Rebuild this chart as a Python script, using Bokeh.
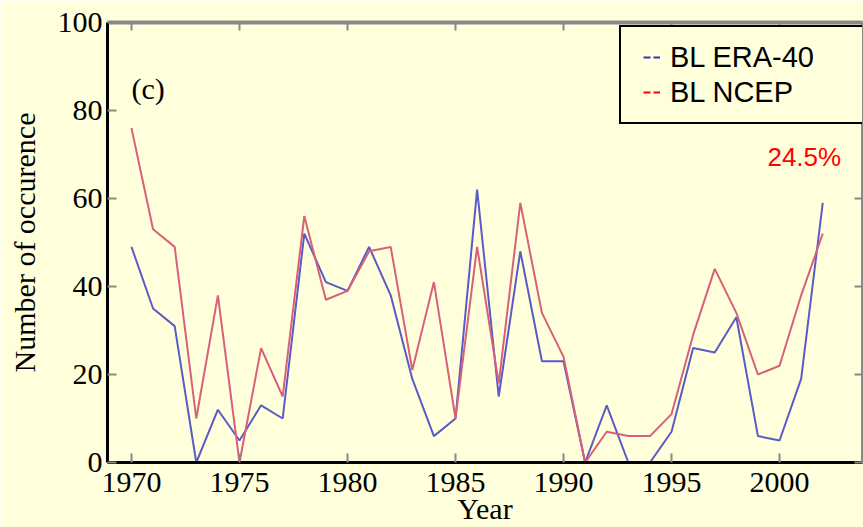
from bokeh.plotting import figure
from bokeh.models import (LinearAxis, FixedTicker, Range1d, Legend, LegendItem,
                          Label, CustomJSTickFormatter)
from bokeh.embed import file_html
from bokeh.resources import INLINE

# Yearly number of blocking occurrences, two reanalyses
years = list(range(1970, 2003))
era40 = [49, 35, 31, 0, 12, 5, 13, 10, 52, 41, 39, 49, 38, 19, 6, 10, 62,
         15, 48, 23, 23, 0, 13, 0, 0, 7, 26, 25, 33, 6, 5, 19, 59]
ncep = [76, 53, 49, 10, 38, 0, 26, 15, 56, 37, 39, 48, 49, 21, 41, 10, 49,
        18, 59, 34, 24, 0, 7, 6, 6, 11, 29, 44, 34, 20, 22, 38, 52]

x_ticks = [1970, 1975, 1980, 1985, 1990, 1995, 2000]
y_ticks = [0, 20, 40, 60, 80, 100]
series_names = ["BL ERA-40", "BL NCEP"]
panel_tag = "(c)"
trend_text = "24.5%"

BG = "#FFFFDC"
SERIF = "Liberation Serif"
SANS = "Liberation Sans"

p = figure(width=863, height=527,
           x_range=Range1d(1968.89, 2003.84), y_range=Range1d(0, 100),
           output_backend="svg", toolbar_location=None,
           min_border_left=107, min_border_right=1,
           min_border_top=22, min_border_bottom=64,
           background_fill_color=BG, border_fill_color=BG)
p.outline_line_color = None
p.grid.visible = False

# data lines
p.line(years, era40, line_color="#5a5ac8", line_width=2)
p.line(years, ncep, line_color="#d8607a", line_width=2)

# hidden dashed copies, used only for the legend swatches ("--")
sw_style = dict(line_width=2, line_dash="7 3 7 9", line_dash_offset=17,
                visible=False)
sw_era = p.line(years, era40, line_color="#3333BB", **sw_style)
sw_ncep = p.line(years, ncep, line_color="#FF0000", **sw_style)

# bottom / left axes
xa = p.xaxis[0]
ya = p.yaxis[0]
xa.ticker = FixedTicker(ticks=x_ticks)
ya.ticker = FixedTicker(ticks=y_ticks)
xa.axis_label = "Year"
ya.axis_label = "Number of occurence"
for ax in (xa, ya):
    ax.axis_line_color = "black"
    ax.axis_line_width = 3
    ax.major_tick_line_color = "#888888"
    ax.major_tick_line_width = 2
    ax.major_tick_in = 9
    ax.major_tick_out = 0
    ax.minor_tick_line_color = None
    ax.major_label_text_font = SERIF
    ax.major_label_text_font_size = "30px"
    ax.major_label_text_color = "black"
    ax.axis_label_text_font = SERIF
    ax.axis_label_text_font_size = "30px"
    ax.axis_label_text_font_style = "normal"
    ax.axis_label_text_color = "black"
xa.major_label_standoff = 10
xa.axis_label_standoff = -3
ya.major_label_standoff = 5
ya.axis_label_standoff = 14

# top / right frame axes with ticks only
blank = CustomJSTickFormatter(code="return ''")
top = LinearAxis(ticker=FixedTicker(ticks=x_ticks), formatter=blank,
                 axis_line_color="#888888", axis_line_width=4,
                 major_tick_line_color="#888888", major_tick_line_width=2,
                 major_tick_in=8, major_tick_out=0, minor_tick_line_color=None,
                 major_label_standoff=0)
right = LinearAxis(ticker=FixedTicker(ticks=y_ticks), formatter=blank,
                   axis_line_color="#888888", axis_line_width=3,
                   major_tick_line_color="#888888", major_tick_line_width=2,
                   major_tick_in=8, major_tick_out=0, minor_tick_line_color=None,
                   major_label_standoff=0)
p.add_layout(top, "above")
p.add_layout(right, "right")

legend = Legend(items=[LegendItem(label=series_names[0], renderers=[sw_era]),
                       LegendItem(label=series_names[1], renderers=[sw_ncep])],
                location=(512, 338),
                padding=13, spacing=1, margin=0,
                glyph_width=26, glyph_height=20,
                label_standoff=10, label_width=181, label_height=34,
                label_text_font=SANS, label_text_font_size="29px",
                label_text_color="black",
                border_line_color="black", border_line_width=2,
                border_line_alpha=1.0,
                background_fill_color=BG, background_fill_alpha=1.0)
p.add_layout(legend)

p.add_layout(Label(x=1970, y=85, text=panel_tag, text_font=SERIF,
                   text_font_size="30px", text_color="black",
                   text_baseline="alphabetic"))
p.add_layout(Label(x=1999.44, y=69.4, text=trend_text, text_font=SANS,
                   text_font_size="26px", text_color="#FF0000",
                   text_baseline="alphabetic"))

open("out.html", "w").write(file_html(p, INLINE))
